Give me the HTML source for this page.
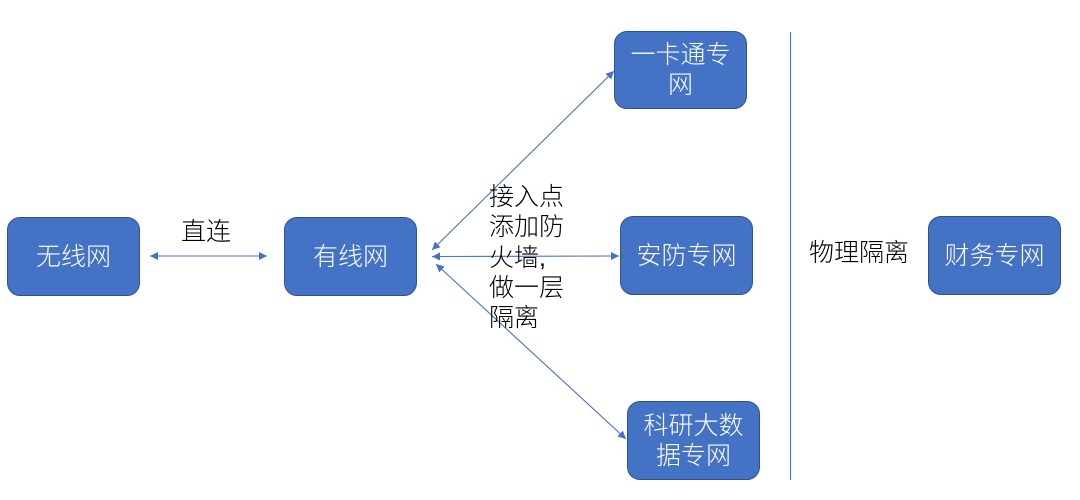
<!DOCTYPE html>
<html>
<head>
<meta charset="utf-8">
<style>
  html, body { margin:0; padding:0; background:#ffffff; }
  body { width:1080px; height:500px; position:relative; overflow:hidden;
         font-family:"Liberation Sans","Noto Sans CJK SC",sans-serif; }
  .box { position:absolute; box-sizing:border-box; background:#4472C4;
         border:1.3px solid #2F528F; border-radius:13px; color:#fff;
         font-size:25px; line-height:30px; display:flex; align-items:center;
         justify-content:center; text-align:center; font-weight:300; }
  .lbl { position:absolute; color:#000; font-size:25px; line-height:30.3px; white-space:nowrap; font-weight:300; }
  svg { position:absolute; left:0; top:0; }
</style>
</head>
<body>
<svg width="1080" height="500" viewBox="0 0 1080 500">
  <defs>
    <marker id="ah" viewBox="0 0 10 10" refX="10" refY="5" markerWidth="9" markerHeight="8" markerUnits="userSpaceOnUse" orient="auto-start-reverse">
      <path d="M0,0 L10,5 L0,10 z" fill="#4472C4"/>
    </marker>
  </defs>
  <g stroke="#4472C4" stroke-width="1.1" fill="none">
    <line x1="150" y1="256" x2="267" y2="256" marker-start="url(#ah)" marker-end="url(#ah)"/>
    <line x1="432" y1="250" x2="614" y2="71" marker-start="url(#ah)" marker-end="url(#ah)"/>
    <line x1="432" y1="256.5" x2="619" y2="256" marker-start="url(#ah)" marker-end="url(#ah)"/>
    <line x1="436" y1="264" x2="626" y2="439" marker-start="url(#ah)" marker-end="url(#ah)"/>
    <line x1="790.5" y1="32" x2="790.5" y2="480"/>
  </g>
</svg>

<div class="box" style="left:7px;top:217px;width:133px;height:79px;">无线网</div>
<div class="box" style="left:284px;top:217px;width:133px;height:79px;">有线网</div>
<div class="box" style="left:614px;top:31px;width:133px;height:78px;">一卡通专<br>网</div>
<div class="box" style="left:620px;top:216px;width:133px;height:79px;">安防专网</div>
<div class="box" style="left:627px;top:401px;width:133px;height:79px;">科研大数<br>据专网</div>
<div class="box" style="left:928px;top:216px;width:133px;height:79px;">财务专网</div>

<div class="lbl" style="left:181px;top:217px;">直连</div>
<div class="lbl" style="left:489px;top:182px;">接入点<br>添加防<br>火墙,<br>做一层<br>隔离</div>
<div class="lbl" style="left:809px;top:238px;">物理隔离</div>
</body>
</html>
